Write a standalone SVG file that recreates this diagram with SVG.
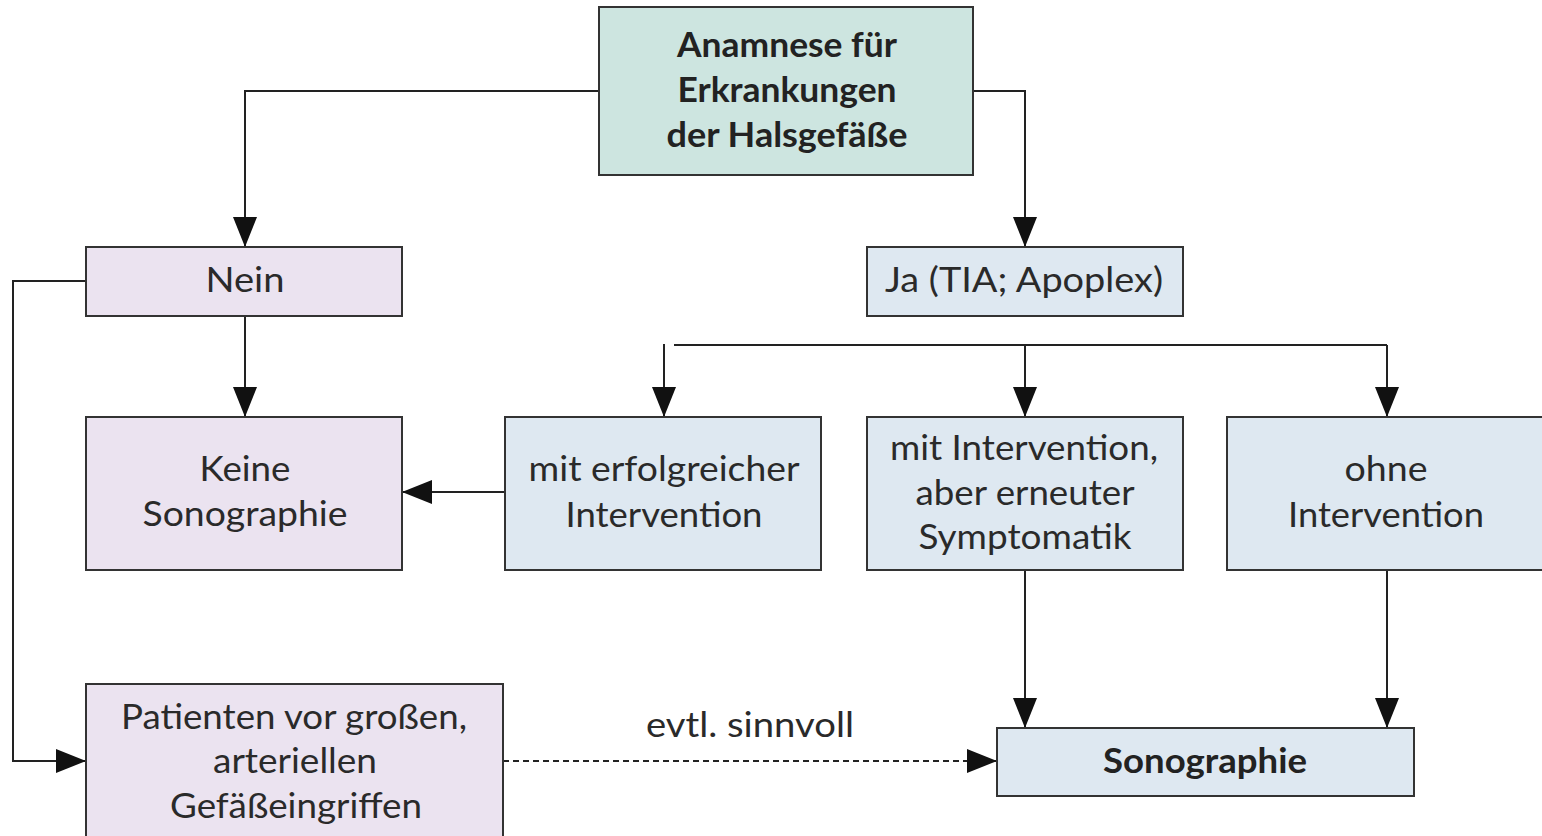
<svg xmlns="http://www.w3.org/2000/svg" width="1542" height="836" viewBox="0 0 1542 836">
<style>
.box{stroke:#333;stroke-width:2}
.g{fill:#cde5e0}.p{fill:#ebe3f0}.b{fill:#dee8f1}
text{font-family:Lato,"Open Sans","Liberation Sans",sans-serif;font-size:34px;fill:#2a2a2a;text-anchor:middle}
.bold{font-weight:bold;fill:#222}
.ln{fill:none;stroke:#222;stroke-width:2}
</style>
<defs>
<marker id="ah" viewBox="0 0 30 24" refX="30" refY="12" markerWidth="30" markerHeight="24" markerUnits="userSpaceOnUse" orient="auto">
<path d="M0,0 L30,12 L0,24 Z" fill="#111"/>
</marker>
</defs>
<rect width="1542" height="836" fill="#fff"/>
<g id="connectors">
<path class="ln" d="M599,91 H245 V247" marker-end="url(#ah)"/>
<path class="ln" d="M973,91 H1025 V247" marker-end="url(#ah)"/>
<path class="ln" d="M245,316 V417" marker-end="url(#ah)"/>
<path class="ln" d="M86,281 H13 V761 H86" marker-end="url(#ah)"/>
<path class="ln" d="M674,345 H1387"/>
<path class="ln" d="M664,344 V417" marker-end="url(#ah)"/>
<path class="ln" d="M1025,345 V417" marker-end="url(#ah)"/>
<path class="ln" d="M1387,345 V417" marker-end="url(#ah)"/>
<path class="ln" d="M505,492 H402" marker-end="url(#ah)"/>
<path class="ln" d="M1025,570 V728" marker-end="url(#ah)"/>
<path class="ln" d="M1387,570 V728" marker-end="url(#ah)"/>
<path class="ln" d="M503,761 H997" stroke-dasharray="6,4" marker-end="url(#ah)"/>
<text x="750" y="737" textLength="208" lengthAdjust="spacingAndGlyphs">evtl. sinnvoll</text>
</g>
<g id="anamnese">
<rect class="box g" x="599" y="7" width="374" height="168"/>
<text class="bold" x="787" y="57" textLength="220" lengthAdjust="spacingAndGlyphs">Anamnese für</text>
<text class="bold" x="787" y="102" textLength="219" lengthAdjust="spacingAndGlyphs">Erkrankungen</text>
<text class="bold" x="787" y="147" textLength="241" lengthAdjust="spacingAndGlyphs">der Halsgefäße</text>
</g>
<g id="nein">
<rect class="box p" x="86" y="247" width="316" height="69"/>
<text x="245" y="292" textLength="79" lengthAdjust="spacingAndGlyphs">Nein</text>
</g>
<g id="ja">
<rect class="box b" x="867" y="247" width="316" height="69"/>
<text x="1024" y="292" textLength="278" lengthAdjust="spacingAndGlyphs">Ja (TIA; Apoplex)</text>
</g>
<g id="keine">
<rect class="box p" x="86" y="417" width="316" height="153"/>
<text x="245" y="481" textLength="91" lengthAdjust="spacingAndGlyphs">Keine</text>
<text x="245" y="526" textLength="205" lengthAdjust="spacingAndGlyphs">Sonographie</text>
</g>
<g id="erfolgreich">
<rect class="box b" x="505" y="417" width="316" height="153"/>
<text x="664" y="481" textLength="271" lengthAdjust="spacingAndGlyphs">mit erfolgreicher</text>
<text x="664" y="527" textLength="197" lengthAdjust="spacingAndGlyphs">Intervention</text>
</g>
<g id="erneut">
<rect class="box b" x="867" y="417" width="316" height="153"/>
<text x="1024" y="460" textLength="268" lengthAdjust="spacingAndGlyphs">mit Intervention,</text>
<text x="1025" y="505" textLength="219" lengthAdjust="spacingAndGlyphs">aber erneuter</text>
<text x="1025" y="549" textLength="213" lengthAdjust="spacingAndGlyphs">Symptomatik</text>
</g>
<g id="ohne">
<rect class="box b" x="1227" y="417" width="320" height="153"/>
<text x="1386" y="481" textLength="83" lengthAdjust="spacingAndGlyphs">ohne</text>
<text x="1386" y="527" textLength="196" lengthAdjust="spacingAndGlyphs">Intervention</text>
</g>
<g id="patienten">
<rect class="box p" x="86" y="684" width="417" height="160"/>
<text x="294" y="729" textLength="346" lengthAdjust="spacingAndGlyphs">Patienten vor großen,</text>
<text x="295" y="773" textLength="164" lengthAdjust="spacingAndGlyphs">arteriellen</text>
<text x="296" y="818" textLength="252" lengthAdjust="spacingAndGlyphs">Gefäßeingriffen</text>
</g>
<g id="sonographie">
<rect class="box b" x="997" y="728" width="417" height="68"/>
<text class="bold" x="1205" y="773" textLength="204" lengthAdjust="spacingAndGlyphs">Sonographie</text>
</g>
</svg>
